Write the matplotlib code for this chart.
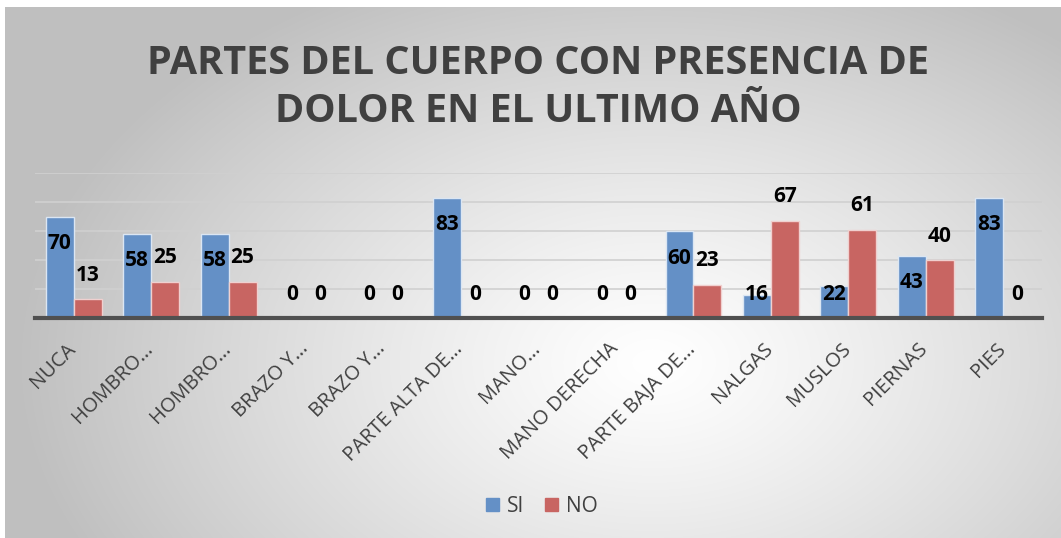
import numpy as np
import matplotlib
matplotlib.use("Agg")
import matplotlib.pyplot as plt
import matplotlib.transforms as mtransforms
from matplotlib.patches import Patch

categories = ["NUCA", "HOMBRO…", "HOMBRO…", "BRAZO Y…", "BRAZO Y…", "PARTE ALTA DE…",
              "MANO…", "MANO DERECHA", "PARTE BAJA DE…", "NALGAS", "MUSLOS", "PIERNAS", "PIES"]
si_values = [70, 58, 58, 0, 0, 83, 0, 0, 60, 16, 22, 43, 83]
no_values = [13, 25, 25, 0, 0, 0, 0, 0, 23, 67, 61, 40, 0]
title = "PARTES DEL CUERPO CON PRESENCIA DE\nDOLOR EN EL ULTIMO AÑO"

W, H, DPI = 1061, 538, 100
fig = plt.figure(figsize=(W / DPI, H / DPI), dpi=DPI)
fig.patch.set_facecolor("white")

# radial gradient background
bg = fig.add_axes([5 / W, 0, 1 - 5 / W, 1 - 7 / H])
bg.set_axis_off()
yy, xx = np.mgrid[0:H, 0:W]
cx, cy = 650, 360
d = np.sqrt(((xx - cx) / 640.0) ** 2 + ((yy - cy) / 430.0) ** 2)
d = np.clip(d, 0, 1)
val = 1.0 - 0.25 * d ** 1.2
img = np.dstack([val, val, val])
bg.imshow(img, aspect="auto", extent=[0, 1, 0, 1])
bg.set_xlim(0, 1)
bg.set_ylim(0, 1)

ax = fig.add_axes([35 / W, 1 - 318 / H, (1042 - 35) / W, (318 - 173) / H])
ax.set_facecolor("none")
x = np.arange(len(categories))
bw = 0.36
blue = "#6490c6"
red = "#c86562"
ax.bar(x - bw / 2, si_values, bw, color=blue, edgecolor="#dbe6f3", linewidth=1.0, zorder=3)
ax.bar(x + bw / 2, no_values, bw, color=red, edgecolor="#f0d0cf", linewidth=1.0, zorder=3)
ax.set_xlim(-0.5, len(categories) - 0.5)
ax.set_ylim(0, 100)
ax.set_yticks([0, 20, 40, 60, 80, 100])
ax.yaxis.grid(True, color="#d0d0d0", linewidth=1.2, zorder=0)
ax.tick_params(axis="y", left=False, labelleft=False)
for s in ["top", "right", "left"]:
    ax.spines[s].set_visible(False)
ax.spines["bottom"].set_color("#505050")
ax.spines["bottom"].set_linewidth(3)
ax.spines["bottom"].set_zorder(5)
ax.set_xticks(x)
ax.set_xticklabels(categories, rotation=45, ha="right", va="top", rotation_mode="anchor",
                   fontsize=14.5, color="#404040", family="Open Sans")
ax.tick_params(axis="x", length=0, pad=15)
shift = mtransforms.ScaledTranslation(-8 / DPI, 0, fig.dpi_scale_trans)
for lbl in ax.get_xticklabels():
    lbl.set_transform(lbl.get_transform() + shift)

px = 0.72  # points per pixel
lab_kw = dict(ha="center", va="center", fontsize=15, fontweight="bold", color="black",
              family="Open Sans", textcoords="offset points", zorder=6)
ppu = 145 / 100.0
for i, v in enumerate(si_values):
    hpx = v * ppu
    if hpx - 27 > 23:
        ax.annotate(str(v), (x[i] - bw / 2, v), xytext=(0, -27 * px), **lab_kw)
    else:
        ax.annotate(str(v), (x[i] - bw / 2, 0), xytext=(0, 23 * px), **lab_kw)
for i, v in enumerate(no_values):
    ax.annotate(str(v), (x[i] + bw / 2, v), xytext=(0, 24 * px), **lab_kw)

fig.text(0.507, 1 - 87 / H, title, ha="center", va="center", fontsize=28.5, fontweight="bold",
         color="#404040", family="Open Sans", linespacing=1.3)

handles = [Patch(facecolor=blue, edgecolor=blue, label="SI"),
           Patch(facecolor=red, edgecolor=red, label="NO")]
fig.legend(handles=handles, loc="center", bbox_to_anchor=(542 / W, 1 - 506 / H), ncol=2,
           frameon=False, prop={"family": "Open Sans", "size": 15}, labelcolor="#404040",
           handlelength=0.6, handleheight=0.6, handletextpad=0.4, columnspacing=1.0)

fig.savefig("out.png", dpi=DPI)
